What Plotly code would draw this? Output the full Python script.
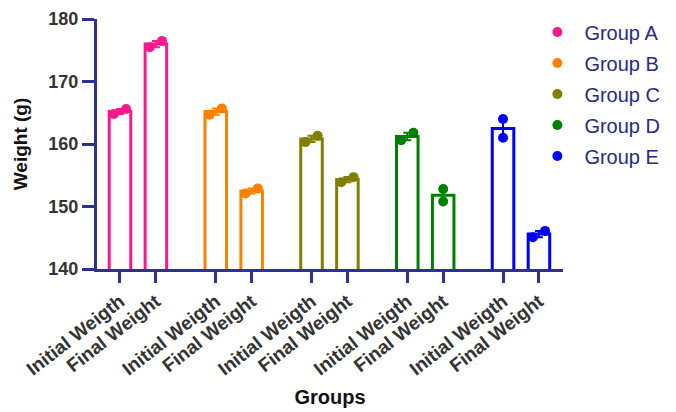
import plotly.graph_objects as go

groups = ["Group A", "Group B", "Group C", "Group D", "Group E"]
timepoints = ["Initial Weigth", "Final Weight"]
colors = ["#F7198D", "#FF8000", "#808000", "#008000", "#0000FF"]

mean_initial = [165.2, 165.2, 160.8, 161.2, 162.5]
mean_final = [176.0, 152.5, 154.3, 151.8, 145.6]
sem_initial = [0.4, 0.5, 0.5, 0.6, 1.5]
sem_final = [0.5, 0.4, 0.4, 1.0, 0.5]
points_initial = [[164.8, 165.6], [164.7, 165.7], [160.3, 161.3], [160.6, 161.8], [161.0, 164.0]]
points_final = [[175.5, 176.5], [152.1, 152.9], [153.9, 154.7], [150.8, 152.8], [145.1, 146.1]]

y_ticks = [140, 150, 160, 170, 180]

AXIS = "#2E3192"
TEXT = "#333333"
FONT = "Liberation Sans, Arial, sans-serif"
GROUP_STEP = 8 / 3
BAR_W = 0.6
DOT_PX = 10
PX_PER_UNIT = 250 / 40

fig = go.Figure()
tickvals, ticktext = [], []
for g, name in enumerate(groups):
    xs = [g * GROUP_STEP + j for j in range(2)]
    tickvals += xs
    ticktext += timepoints
    fig.add_trace(go.Bar(
        x=xs, y=[mean_initial[g], mean_final[g]], width=BAR_W,
        marker=dict(color="white", line=dict(color=colors[g], width=3)),
        error_y=dict(type="data", array=[sem_initial[g], sem_final[g]],
                     color=colors[g], thickness=2, width=4),
        showlegend=False, hoverinfo="skip"))

for g, name in enumerate(groups):
    px_, py_ = [], []
    for j, pts in enumerate([points_initial[g], points_final[g]]):
        x0 = g * GROUP_STEP + j
        lo, hi = sorted(pts)
        close = (hi - lo) * PX_PER_UNIT < DOT_PX
        off = 0.17 if close else 0.0
        px_ += [x0 - off, x0 + off]
        py_ += [lo, hi]
    fig.add_trace(go.Scatter(
        x=px_, y=py_, mode="markers", name=name, legendgroup=name,
        marker=dict(color=colors[g], size=10)))

fig.update_layout(
    width=676, height=412,
    margin=dict(l=89, r=121, t=11, b=151, autoexpand=False),
    paper_bgcolor="white", plot_bgcolor="white",
    barmode="overlay",
    font=dict(family=FONT, color=TEXT),
    legend=dict(x=0.93, y=0.989, xref="paper", yref="container",
                xanchor="left", yanchor="top",
                font=dict(size=20, color="#28288A"), itemwidth=44,
                bgcolor="rgba(0,0,0,0)", tracegroupgap=2),
    xaxis=dict(range=[-0.64, 4 * GROUP_STEP + 1 + 0.67], tickvals=tickvals, ticktext=ticktext,
               tickangle=-38, tickfont=dict(size=19, family=FONT, color=TEXT, weight="bold"),
               ticks="outside", ticklen=11, tickwidth=3, tickcolor=AXIS, automargin=False,
               showline=True, linecolor=AXIS, linewidth=3, showgrid=False, zeroline=False,
               title=dict(text="<b>Groups</b>", standoff=12,
                          font=dict(size=20, color="#111111"))),
    yaxis=dict(range=[140, 180], tickvals=y_ticks, automargin=False,
               tickfont=dict(size=18, family=FONT, color=TEXT, weight="bold"),
               ticks="outside", ticklen=12, tickwidth=3, tickcolor=AXIS,
               showline=True, linecolor=AXIS, linewidth=3, showgrid=False, zeroline=False,
               title=dict(text="<b>Weight (g)</b>", standoff=16,
                          font=dict(size=19, color="#111111"))),
)

fig.write_html("out.html")
